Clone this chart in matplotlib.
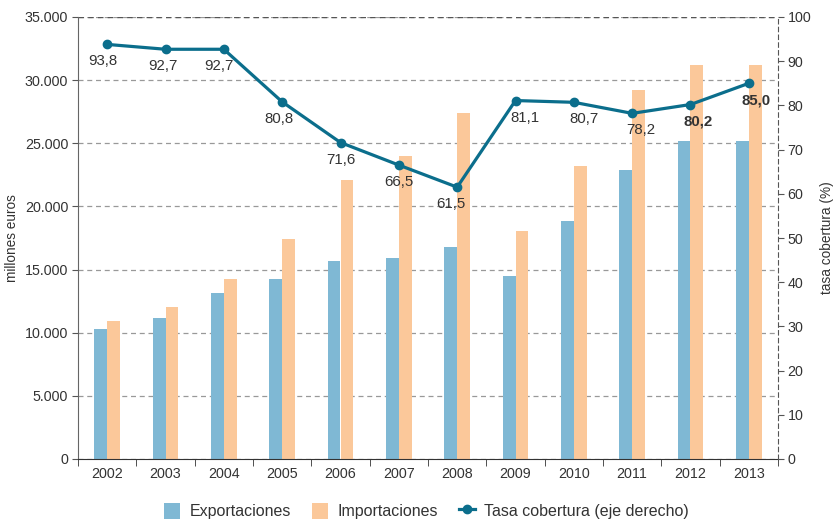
import matplotlib
matplotlib.use("Agg")
import matplotlib.pyplot as plt
import numpy as np
from matplotlib.ticker import FuncFormatter, MultipleLocator

plt.rcParams['font.family'] = ['Liberation Sans', 'DejaVu Sans']

years = ['2002', '2003', '2004', '2005', '2006', '2007', '2008', '2009', '2010', '2011', '2012', '2013']
exportaciones = [10300, 11150, 13150, 14250, 15700, 15900, 16800, 14500, 18850, 22900, 25200, 25200]
importaciones = [10950, 12050, 14250, 17400, 22100, 24000, 27400, 18050, 23200, 29200, 31200, 31200]
tasa = [93.8, 92.7, 92.7, 80.8, 71.6, 66.5, 61.5, 81.1, 80.7, 78.2, 80.2, 85.0]
tasa_labels = ['93,8', '92,7', '92,7', '80,8', '71,6', '66,5', '61,5', '81,1', '80,7', '78,2', '80,2', '85,0']

C_EXP = '#7fb8d4'
C_IMP = '#fbc89a'
C_LINE = '#0b6e8c'
TXT = '#333333'

fig = plt.figure(figsize=(8.4, 5.22), dpi=100)
ax = fig.add_axes([78/840, 63/522, 700/840, 442/522])
x = np.arange(len(years))
w = 0.22
ax.bar(x - w/2, exportaciones, width=w, color=C_EXP, label='Exportaciones', zorder=2)
ax.bar(x + w/2, importaciones, width=w, color=C_IMP, label='Importaciones', zorder=2)
ax.set_xlim(-0.5, len(years) - 0.5)
ax.set_ylim(0, 35000)
ax.yaxis.set_major_locator(MultipleLocator(5000))
ax.yaxis.set_major_formatter(FuncFormatter(lambda v, p: f"{int(v):,}".replace(',', '.')))
ax.grid(axis='y', linestyle=(0, (4, 3)), color='#999999', linewidth=0.9, zorder=0)
ax.set_axisbelow(True)
ax.set_xticks(x)
ax.set_xticklabels(years)
ax.set_xticks(np.arange(-0.5, len(years)), minor=True)
ax.tick_params(axis='x', which='major', length=0, labelsize=10.3, colors=TXT, pad=6)
ax.tick_params(axis='x', which='minor', length=5, direction='out', color='#333333')
ax.tick_params(axis='y', labelsize=10.3, colors=TXT, length=4, color='#555555', pad=3)
for s in ['top', 'right']:
    ax.spines[s].set_visible(False)
ax.spines['left'].set_color('#666666')
ax.spines['bottom'].set_color('#333333')
ax.axhline(35000, color='#555555', linestyle=(0, (4, 3)), linewidth=1.0, zorder=1)
ax.set_ylabel('millones euros', fontsize=9.8, color=TXT, labelpad=4)

ax2 = ax.twinx()
ax2.set_ylim(0, 100)
ax2.yaxis.set_major_locator(MultipleLocator(10))
line, = ax2.plot(x, tasa, color=C_LINE, linewidth=2.3, marker='o', markersize=6,
                 label='Tasa cobertura (eje derecho)', zorder=3)
for s in ['top', 'left', 'bottom']:
    ax2.spines[s].set_visible(False)
ax2.spines['right'].set_linestyle((0, (4, 3)))
ax2.spines['right'].set_color('#555555')
ax2.tick_params(axis='y', labelsize=10.3, colors=TXT, length=4, color='#555555', pad=3)
ax2.set_ylabel('tasa cobertura (%)', fontsize=9.8, color=TXT, rotation=90, labelpad=6)

dx = [-4, -3, -5, -3, 0, 0, -6, 9, 10, 9, 8, 7]
for i, (v, lab) in enumerate(zip(tasa, tasa_labels)):
    bold = i >= 10
    ax2.annotate(lab, (x[i], v), xytext=(dx[i], -17), textcoords='offset pixels',
                 ha='center', va='center', fontsize=10.8, color=TXT,
                 fontweight='bold' if bold else 'normal', zorder=4)

h1, l1 = ax.get_legend_handles_labels()
h2, l2 = ax2.get_legend_handles_labels()
fig.legend(h1 + h2, l1 + l2, loc='lower center', bbox_to_anchor=(0.508, -0.022), ncol=3,
           frameon=False, fontsize=11.5, handlelength=1.0, handleheight=1.2,
           columnspacing=1.3, handletextpad=0.6, labelcolor=TXT)

fig.savefig('out.png', dpi=100)
